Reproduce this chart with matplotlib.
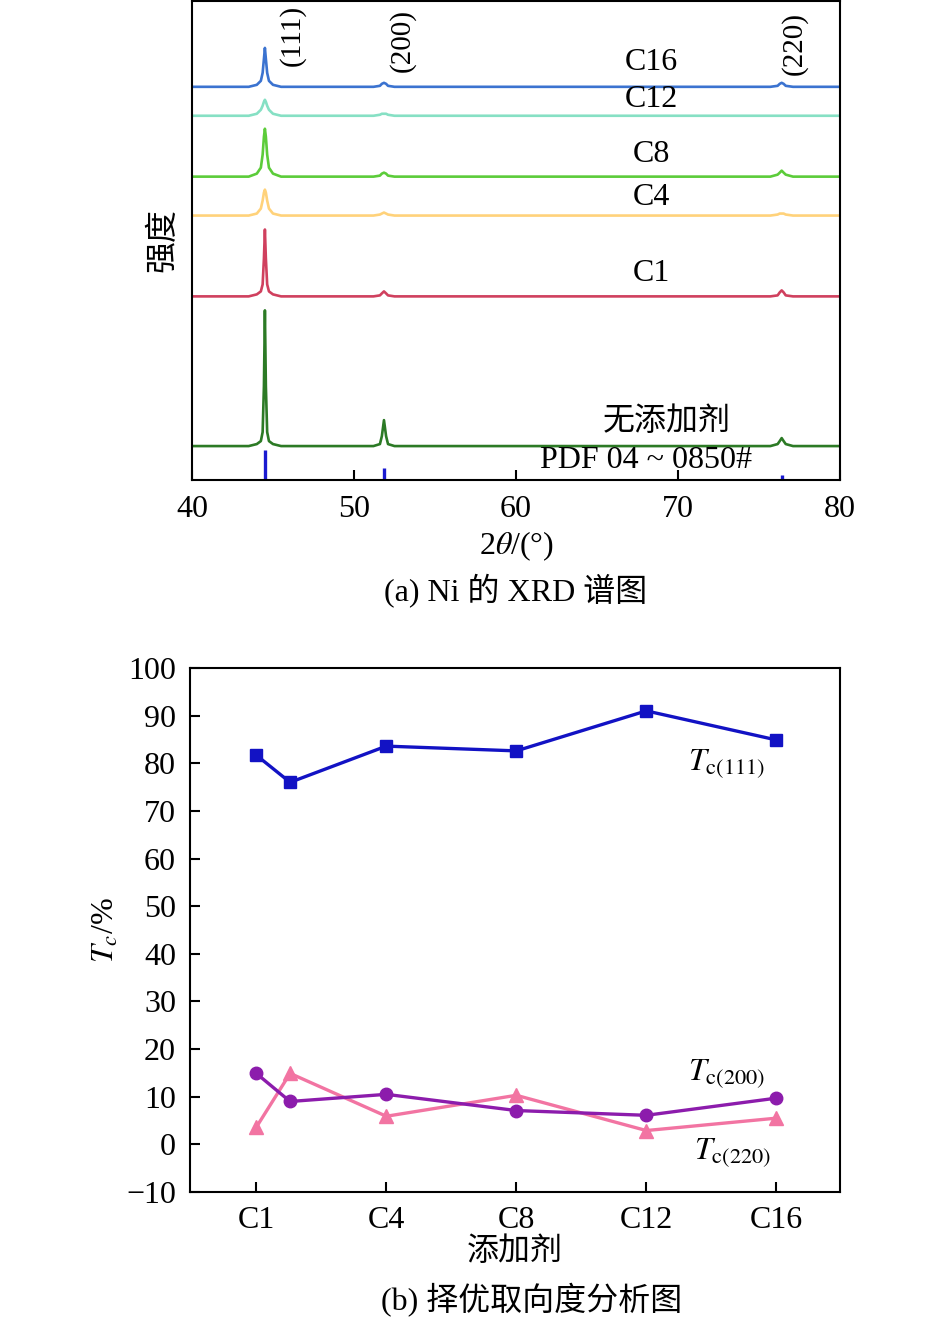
import matplotlib
matplotlib.use('Agg')
import matplotlib.pyplot as plt
import numpy as np

plt.rcParams['font.family'] = ['Liberation Serif', 'Noto Sans CJK SC']
plt.rcParams['mathtext.fontset'] = 'stix'

# ---- (a) XRD data, intensity in arbitrary units (stacked) ----
samples = ['C16', 'C12', 'C8', 'C4', 'C1', '无添加剂']
xrd_colors = ['#3b73d0', '#86e0c4', '#5ccc3a', '#ffd27a', '#d0405e', '#2c7a25']
baselines = [394, 365, 304, 265, 184, 34]

x_111 = [43.5, 44.0, 44.25, 44.36, 44.44, 44.5, 44.56, 44.64, 44.75, 45.0, 45.5]
x_200 = [51.2, 51.6, 51.72, 51.85, 51.98, 52.1, 52.5]
x_220 = [75.7, 76.15, 76.28, 76.4, 76.52, 76.65, 77.1]

peak_111 = [
    [0, 2, 6, 14, 28, 39, 28, 14, 6, 2, 0],
    [0, 2, 6, 10, 14, 16, 14, 10, 6, 2, 0],
    [0, 3, 9, 22, 40, 48, 40, 22, 9, 3, 0],
    [0, 2, 7, 15, 23, 26, 23, 15, 7, 2, 0],
    [0, 2, 5, 12, 38, 67, 38, 12, 5, 2, 0],
    [0, 2, 5, 14, 60, 136, 60, 14, 5, 2, 0],
]
peak_200 = [
    [0, 1, 3, 4, 3, 1, 0],
    [0, 1, 2, 2, 2, 1, 0],
    [0, 1, 3, 4, 3, 1, 0],
    [0, 1, 2, 3, 2, 1, 0],
    [0, 1, 3, 5, 3, 1, 0],
    [0, 2, 10, 26, 10, 2, 0],
]
peak_220 = [
    [0, 1, 3, 4, 3, 1, 0],
    [0, 0, 0, 0, 0, 0, 0],
    [0, 2, 4, 6, 4, 2, 0],
    [0, 1, 2, 2, 2, 1, 0],
    [0, 1, 4, 6, 4, 1, 0],
    [0, 2, 5, 8, 5, 2, 0],
]

pdf_pos = [44.5, 51.85, 76.4]
pdf_height = [30, 12, 5]

# ---- (b) texture coefficient data ----
cat_labels = ['C1', 'C4', 'C8', 'C12', 'C16']
cat_pos = [1, 2, 3, 4, 5]
pts_x = [1, 1.26, 2, 3, 4, 5]
tc111 = [81.7, 76.0, 83.6, 82.6, 91.0, 84.9]
tc200 = [14.9, 9.0, 10.5, 7.1, 6.1, 9.7]
tc220 = [3.6, 14.9, 5.9, 10.3, 2.9, 5.5]

fs = 23

fig = plt.figure(figsize=(9.45, 13.23), dpi=100)

# top panel
ax1 = fig.add_axes([192 / 945, 1 - 480 / 1323, 648 / 945, 479 / 1323])
xx = [40] + x_111 + x_200 + x_220 + [80]
for i in range(len(samples)):
    yy = [0] + peak_111[i] + peak_200[i] + peak_220[i] + [0]
    yy = np.array(yy) + baselines[i]
    ax1.plot(xx, yy, color=xrd_colors[i], lw=1.9)
ax1.vlines(pdf_pos, 0, pdf_height, color='#1a1ad0', lw=2.4)

ax1.set_xlim(40, 80)
ax1.set_ylim(0, 480)
ax1.set_yticks([])
ax1.set_xticks([40, 50, 60, 70, 80])
ax1.tick_params(axis='x', direction='in', length=7, width=1.5, labelsize=fs, pad=11)
for s in ax1.spines.values():
    s.set_linewidth(1.5)

lab_y = [418, 381, 326, 283, 207]
for name, y in zip(samples[:5], lab_y):
    ax1.text(68.33, y, name, fontsize=fs, ha='center', va='center')
ax1.text(69.3, 58, '无添加剂', fontsize=fs, ha='center', va='center')
ax1.text(68.0, 20, 'PDF 04 ~ 0850#', fontsize=fs, ha='center', va='center')
ax1.text(46.2, 445, '(111)', fontsize=21, rotation=90, ha='center', va='center')
ax1.text(52.95, 440, '(200)', fontsize=21, rotation=90, ha='center', va='center')
ax1.text(77.2, 437, '(220)', fontsize=21, rotation=90, ha='center', va='center')

ax1.set_xlabel(r'2$\theta$/(°)', fontsize=fs, labelpad=4)
ax1.set_ylabel('强度', fontsize=fs, labelpad=10)
fig.text(516 / 945, 1 - 591 / 1323, '(a) Ni 的 XRD 谱图', fontsize=fs, ha='center', va='center')

# bottom panel
ax2 = fig.add_axes([190 / 945, 1 - 1192 / 1323, 650 / 945, 524 / 1323])
ax2.plot(pts_x, tc111, color='#1212c4', lw=2.4, marker='s', ms=9)
ax2.plot(pts_x, tc220, color='#f274a2', lw=2.4, marker='^', ms=10)
ax2.plot(pts_x, tc200, color='#8c1cac', lw=2.4, marker='o', ms=9)

ax2.set_xlim(0.49, 5.49)
ax2.set_ylim(-10, 100)
ax2.set_xticks(cat_pos)
ax2.set_xticklabels(cat_labels)
ax2.set_yticks(np.arange(-10, 101, 10))
ax2.set_yticklabels(['\u221210'] + [str(v) for v in range(0, 101, 10)])
ax2.tick_params(direction='in', length=7, width=1.5, labelsize=fs)
ax2.tick_params(axis='y', pad=10)
ax2.tick_params(axis='x', pad=10)
for s in ax2.spines.values():
    s.set_linewidth(1.5)

ax2.text(4.62, 80, r'$T_{\mathrm{c(111)}}$', fontsize=fs, ha='center', va='center')
ax2.text(4.62, 14.9, r'$T_{\mathrm{c(200)}}$', fontsize=fs, ha='center', va='center')
ax2.text(4.66, -1.7, r'$T_{\mathrm{c(220)}}$', fontsize=fs, ha='center', va='center')

ax2.set_xlabel('添加剂', fontsize=fs, labelpad=2)
ax2.set_ylabel(r'$T_c$/%', fontsize=fs, labelpad=4)
fig.text(532 / 945, 1 - 1300 / 1323, '(b) 择优取向度分析图', fontsize=fs, ha='center', va='center')

fig.savefig('out.png', dpi=100)
